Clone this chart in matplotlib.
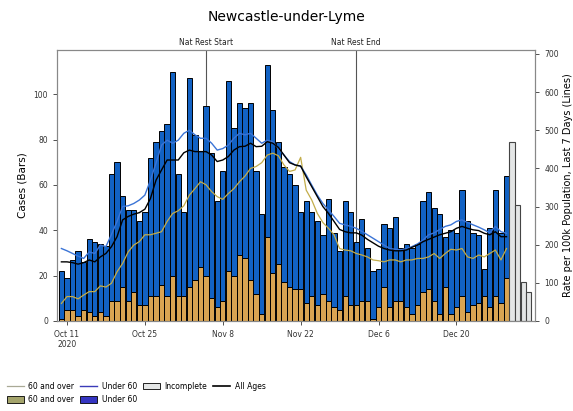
import numpy as np
import pandas as pd
import matplotlib
matplotlib.use("Agg")
import matplotlib.pyplot as plt
import matplotlib.dates as mdates
from matplotlib.lines import Line2D
from matplotlib.patches import Patch

# --- dati ---
start = pd.Timestamp("2020-10-10")

over60_cases = [1, 5, 5, 2, 5, 4, 2, 4, 2, 9,
                9, 15, 9, 13, 7, 7, 11, 11, 16, 11,
                20, 11, 11, 15, 18, 24, 20, 10, 6, 9,
                22, 20, 29, 28, 18, 12, 3, 37, 21, 25,
                17, 15, 14, 14, 8, 11, 7, 12, 9, 6,
                5, 11, 7, 7, 9, 9, 1, 6, 15, 6,
                9, 9, 6, 3, 7, 13, 14, 9, 3, 15,
                3, 6, 11, 4, 7, 8, 11, 6, 11, 8, 19]
under60_cases = [21, 14, 22, 29, 21, 32, 33, 30, 31, 56,
                 61, 40, 40, 36, 37, 41, 61, 68, 68, 76,
                 90, 54, 37, 92, 64, 51, 75, 64, 47, 57,
                 84, 65, 67, 66, 78, 54, 44, 76, 72, 54,
                 51, 50, 46, 34, 45, 37, 37, 26, 45, 33,
                 26, 42, 41, 28, 36, 23, 21, 17, 28, 35,
                 37, 23, 28, 29, 27, 40, 43, 41, 44, 22,
                 37, 33, 47, 40, 32, 30, 12, 35, 47, 31, 45]
incomplete_cases = [79, 51, 17, 13]

under60_rate = [190, 184, 177, 170, 164, 181, 177, 199, 195, 227,
                261, 300, 302, 308, 317, 330, 369, 414, 461, 474,
                466, 474, 492, 500, 488, 479, 479, 466, 448, 452,
                461, 479, 492, 488, 492, 479, 466, 474, 470, 452,
                435, 418, 409, 406, 383, 356, 330, 308, 291, 274,
                256, 252, 248, 243, 235, 226, 217, 208, 199, 190,
                188, 186, 190, 195, 202, 212, 226, 231, 240, 248,
                252, 261, 265, 258, 252, 246, 239, 231, 248, 234, 230]
all_rate = [155, 155, 153, 149, 153, 160, 155, 168, 177, 195,
            221, 265, 274, 280, 284, 293, 321, 369, 396, 422,
            422, 422, 441, 448, 444, 444, 444, 435, 418, 422,
            431, 448, 457, 458, 466, 457, 458, 470, 466, 455,
            435, 415, 409, 406, 378, 352, 326, 300, 282, 261,
            240, 234, 231, 231, 225, 214, 205, 196, 190, 186,
            184, 184, 186, 193, 199, 208, 214, 220, 226, 230,
            234, 243, 248, 243, 239, 237, 230, 226, 234, 221, 221]
over60_rate = [46, 64, 64, 58, 68, 77, 77, 92, 89, 99,
               129, 151, 181, 199, 208, 226, 226, 230, 234, 261,
               282, 289, 302, 330, 347, 365, 357, 339, 326, 319,
               334, 347, 365, 380, 400, 405, 415, 435, 440, 433,
               409, 392, 396, 429, 343, 317, 282, 258, 243, 226,
               190, 186, 184, 177, 173, 168, 160, 158, 155, 160,
               160, 155, 160, 160, 164, 164, 168, 177, 164, 177,
               188, 186, 190, 168, 164, 173, 168, 177, 186, 160, 190]

tick_dates = ["2020-10-11", "2020-10-25", "2020-11-08", "2020-11-22", "2020-12-06", "2020-12-20"]
tick_labels = ["Oct 11\n2020", "Oct 25", "Nov 8", "Nov 22", "Dec 6", "Dec 20"]
eventi = [("2020-11-05", "Nat Rest Start"), ("2020-12-02", "Nat Rest End")]

# --- date ---
giorni = pd.date_range(start, periods=len(under60_cases), freq="D")
giorni_inc = pd.date_range(giorni[-1] + pd.Timedelta(days=1), periods=len(incomplete_cases), freq="D")

COL_OVER = "#d9a452"
COL_UNDER = "#1262c4"

fig = plt.figure(figsize=(5.73, 4.11), dpi=100)
ax = fig.add_axes([0.0995, 0.219, 0.835, 0.659])
ax2 = ax.twinx()

larg = 0.95
ax.bar(giorni, over60_cases, width=larg, color=COL_OVER, edgecolor="black", linewidth=0.7, zorder=2)
ax.bar(giorni, under60_cases, width=larg, bottom=over60_cases, color=COL_UNDER,
       edgecolor="black", linewidth=0.7, zorder=2)
ax.bar(giorni_inc, incomplete_cases, width=larg, color="#e4e6e6", edgecolor="#444444", linewidth=0.8, zorder=2)

ax2.plot(giorni, over60_rate, color="#c3ad4a", linewidth=0.9)
ax2.plot(giorni, under60_rate, color="#3b74d6", linewidth=1.0)
ax2.plot(giorni, all_rate, color="black", linewidth=1.0)

for data, testo in eventi:
    d = pd.Timestamp(data)
    ax.axvline(d, color="#555555", linewidth=0.8, zorder=1)
    ax.text(d, 121, testo, ha="center", va="bottom", fontsize=5.5, color="#222222")

ax.set_xlim(pd.Timestamp("2020-10-09 05:00"), pd.Timestamp("2021-01-03 05:00"))
ax.set_ylim(0, 119.5)
ax2.set_ylim(0, 710)
ax.set_yticks([0, 20, 40, 60, 80, 100])
ax2.set_yticks([0, 100, 200, 300, 400, 500, 600, 700])

ax.set_xticks([pd.Timestamp(t) for t in tick_dates])
ax.set_xticklabels(tick_labels)
for a in (ax, ax2):
    a.tick_params(labelsize=5.5, length=3, width=0.6, colors="#333333")
    for s in a.spines.values():
        s.set_color("#888888")
        s.set_linewidth(0.8)

ax.set_ylabel("Cases (Bars)", fontsize=7.5)
ax2.set_ylabel("Rate per 100k Population, Last 7 Days (Lines)", fontsize=7, labelpad=3)
fig.suptitle("Newcastle-under-Lyme", fontsize=10, y=0.975)

# --- legenda ---
handles = [
    Line2D([], [], color="#a9a996", linewidth=0.9),
    Patch(facecolor="#a4a46c", edgecolor="black", linewidth=0.6),
    Line2D([], [], color="#3b3bb8", linewidth=1.0),
    Patch(facecolor="#3535c2", edgecolor="black", linewidth=0.6),
    Patch(facecolor="#e4e6e6", edgecolor="black", linewidth=0.6),
    Line2D([], [], color="black", linewidth=1.2),
]
labels = ["60 and over", "60 and over", "Under 60", "Under 60", "Incomplete", "All Ages"]
fig.legend(handles, labels, loc="lower left", bbox_to_anchor=(0.0, 0.0), ncol=4,
           frameon=False, fontsize=5.5, handlelength=2.2, handleheight=0.9,
           columnspacing=0.8, labelspacing=0.6, handletextpad=0.6)

fig.savefig("out.png", dpi=100)
